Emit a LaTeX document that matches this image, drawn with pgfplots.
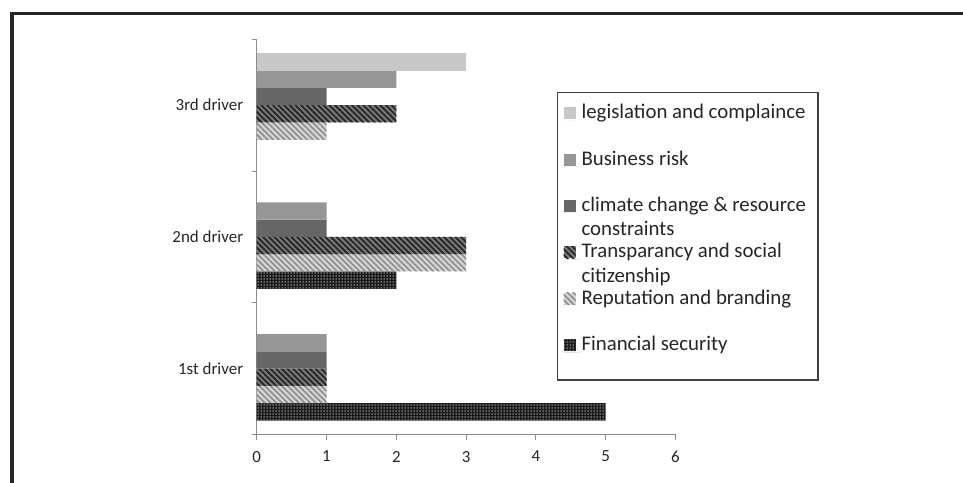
\documentclass[border=0pt]{standalone}
\usepackage{fontspec}
\setmainfont{Carlito}
\usepackage{pgfplots}
\pgfplotsset{compat=1.18}
\usetikzlibrary{patterns.meta}
\definecolor{cLeg}{HTML}{C8C8C8}
\definecolor{cBus}{HTML}{969696}
\definecolor{cCli}{HTML}{666666}
\definecolor{cTraBg}{HTML}{7A7A7A}
\definecolor{cTraFg}{HTML}{242424}
\definecolor{cRepBg}{HTML}{D6D6D6}
\definecolor{cRepFg}{HTML}{8C8C8C}
\definecolor{cFinBg}{HTML}{1A1A1A}
\definecolor{cFinFg}{HTML}{B8B8B8}
\definecolor{axgray}{HTML}{8C8C8C}
\definecolor{frame}{HTML}{262626}
\definecolor{legframe}{HTML}{404040}
\definecolor{txt}{HTML}{262626}
\newcommand\lent[2]{\vtop{\hbox{#1\kern4bp}\hbox{#2}}}
\begin{document}
\begin{tikzpicture}
\useasboundingbox (0,0) rectangle (963bp,483bp);
\draw[line width=3.6bp, color=frame, line join=miter] (12bp,0bp) -- (12bp,469.3bp) -- (963bp,469.3bp);
\begin{axis}[
  at={(256.7bp,48.5bp)}, anchor=south west,
  scale only axis, width=418.8bp, height=395.2bp,
  xbar=0pt, bar width=17.3bp,
  xmin=0, xmax=6, ymin=-0.5, ymax=2.5,
  axis x line*=bottom, axis y line*=left,
  axis line style={color=axgray, line width=0.9bp, -},
  xtick={0,1,2,3,4,5,6},
  ytick={-0.5,0.5,1.5,2.5}, yticklabels={},
  extra y ticks={0,1,2},
  extra y tick labels={1st driver,2nd driver,3rd driver},
  extra y tick style={major tick length=0bp},
  tick align=outside, major tick length=5bp,
  tick style={color=axgray, line width=0.9bp},
  /pgf/number format/assume math mode=true,
  ticklabel style={font=\fontsize{17}{20}\selectfont, text=txt},
  yticklabel style={xshift=-10bp},
  xticklabel style={yshift=-8bp},
  legend style={at={(0.717,0.8674)}, anchor=north west, draw=legframe, line width=1.2bp,
    font=\fontsize{20.9}{24.5}\selectfont, text=txt,
    inner xsep=6bp, inner ysep=9.3bp, row sep=9.4bp,
    nodes={inner sep=2bp, text height=15bp, text depth=18bp}},
  legend cell align=left,
  reverse legend,
  legend image code/.code={\path[#1,draw=none] (0bp,1bp) rectangle (12bp,13bp);\path (0bp,0bp) -- (16bp,0bp);},
]
\addplot[draw=none, fill=cFinBg, postaction={pattern={Dots[radius=0.75bp,distance=3bp]}, pattern color=cFinFg}]
  coordinates {(5,0) (2,1)};
\addlegendentry{\lent{Financial security}{}}
\addplot[draw=none, fill=cRepBg, postaction={pattern={Lines[angle=-45,distance=4bp,line width=1.6bp]}, pattern color=cRepFg}]
  coordinates {(1,0) (3,1) (1,2)};
\addlegendentry{\lent{Reputation and branding}{}}
\addplot[draw=none, fill=cTraBg, postaction={pattern={Lines[angle=-45,distance=4bp,line width=1.8bp]}, pattern color=cTraFg}]
  coordinates {(1,0) (3,1) (2,2)};
\addlegendentry{\lent{Transparancy and social}{citizenship}}
\addplot[draw=none, fill=cCli] coordinates {(1,0) (1,1) (1,2)};
\addlegendentry{\lent{climate change \& resource}{constraints}}
\addplot[draw=none, fill=cBus] coordinates {(1,0) (1,1) (2,2)};
\addlegendentry{\lent{Business risk}{}}
\addplot[draw=none, fill=cLeg] coordinates {(3,2)};
\addlegendentry{\lent{legislation and complaince}{}}
\end{axis}
\end{tikzpicture}
\end{document}
